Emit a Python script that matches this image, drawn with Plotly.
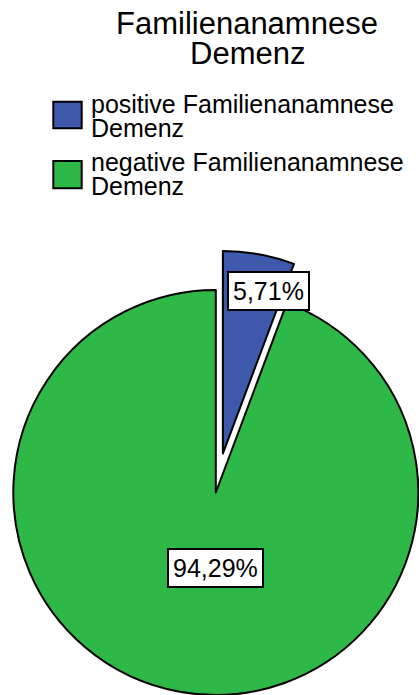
import math
import plotly.graph_objects as go

# ---- data ----
categories = ["positive Familienanamnese Demenz", "negative Familienanamnese Demenz"]
percent = [5.71, 94.29]
colors = ["#3E58AC", "#2EB848"]
title_lines = ["Familienanamnese", "Demenz"]
legend_lines = [["positive Familienanamnese", "Demenz"],
                ["negative Familienanamnese", "Demenz"]]

# ---- layout helpers (window pixel -> paper) ----
OFF = 0
W, H = 426, 695              # figure size (a little wider than the window for the exploded slice)
FONT = "Liberation Sans, Arial, sans-serif"


def px(x):
    return (x - OFF) / W


def py(y):
    return 1 - (y - OFF) / H


# main pie geometry (window pixels)
cx, cy, r = 215.8, 492.5, 202.5
pull_px = 39.6
mid_angle = percent[0] / sum(percent) * 360 / 2
bx = cx + pull_px * math.sin(math.radians(mid_angle))
by = cy - pull_px * math.cos(math.radians(mid_angle))
rb = min(r, W + OFF - bx, bx - OFF, by - OFF, H + OFF - by)

clear = "rgba(0,0,0,0)"
fig = go.Figure()

# whole pie with the negative slice visible
fig.add_trace(go.Pie(
    labels=categories, values=percent, sort=False, direction="clockwise", rotation=0,
    marker=dict(colors=[clear, colors[1]], line=dict(color=[clear, "black"], width=2)),
    textinfo="none", hoverinfo="label+percent",
    domain=dict(x=[px(cx - r), px(cx + r)], y=[py(cy + r), py(cy - r)]),
    showlegend=False,
))
# exploded positive slice
fig.add_trace(go.Pie(
    labels=categories, values=percent, sort=False, direction="clockwise", rotation=0,
    marker=dict(colors=[colors[0], clear], line=dict(color=["black", clear], width=2)),
    textinfo="none", hoverinfo="label+percent",
    domain=dict(x=[px(bx - rb), px(bx + rb)], y=[py(by + rb), py(by - rb)]),
    showlegend=False,
))

annotations = []
# title
for text, yb in zip(title_lines, [34.3, 64.3]):
    annotations.append(dict(text=text, x=px(247), y=py(yb - 0.3465 * 31), xref="paper", yref="paper",
                            xanchor="center", yanchor="middle", showarrow=False,
                            borderpad=0, borderwidth=0,
                            font=dict(family=FONT, size=31, color="black")))
# legend
legend_baselines = [[112.7, 136.3], [170.7, 194.7]]
legend_boxes = [(53.3, 101.7, 81.7, 128.3), (53.3, 161.0, 81.7, 188.3)]
shapes = []
for lines, bls, box, col in zip(legend_lines, legend_baselines, legend_boxes, colors):
    for text, yb in zip(lines, bls):
        annotations.append(dict(text=text, x=px(90.5), y=py(yb - 0.3465 * 25), xref="paper", yref="paper",
                                xanchor="left", yanchor="middle", showarrow=False,
                                borderpad=0, borderwidth=0,
                                font=dict(family=FONT, size=25, color="black")))
    shapes.append(dict(type="rect", xref="paper", yref="paper",
                       x0=px(box[0]), x1=px(box[2]), y0=py(box[3]), y1=py(box[1]),
                       fillcolor=col, line=dict(color="black", width=2)))

# value labels
label_pos = [(268.5, 291.5), (215.5, 568.0)]
for v, (lx, ly) in zip(percent, label_pos):
    annotations.append(dict(text=f"{v:.2f}".replace(".", ",") + "%", x=px(lx), y=py(ly),
                            xref="paper", yref="paper", xanchor="center", yanchor="middle",
                            showarrow=False, bgcolor="white", bordercolor="black",
                            borderwidth=2, borderpad=4,
                            font=dict(family=FONT, size=25, color="black")))

fig.update_layout(
    width=W, height=H,
    margin=dict(l=0, r=0, t=0, b=0),
    paper_bgcolor="white", plot_bgcolor="white",
    showlegend=False,
    annotations=annotations, shapes=shapes,
)

fig.write_html(
    "out.html",
    config={"displayModeBar": False},
    post_script="document.documentElement.style.overflow='hidden';"
                "document.body.style.margin='0';document.body.style.overflow='hidden';",
)
